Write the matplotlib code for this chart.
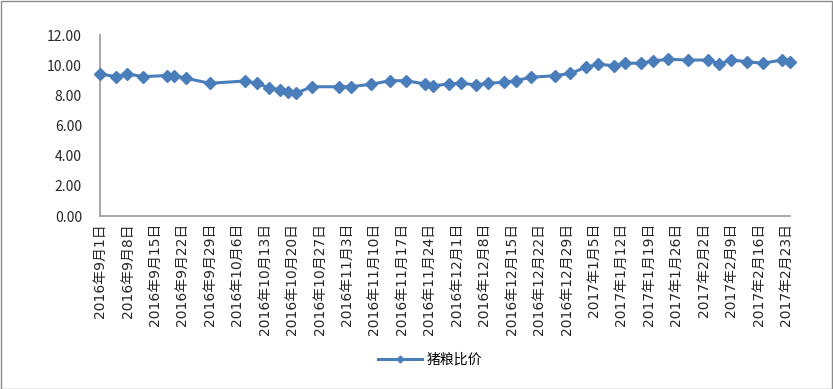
import matplotlib
matplotlib.use("Agg")
import matplotlib.pyplot as plt
import matplotlib.dates as mdates
from matplotlib.patches import Rectangle
from matplotlib.ticker import FuncFormatter, FixedLocator
import datetime as dt

plt.rcParams['font.family'] = ['Noto Sans CJK SC', 'DejaVu Sans']

# ---- data ----
dates = ["2016-09-01", "2016-09-05", "2016-09-08", "2016-09-12", "2016-09-18", "2016-09-20",
         "2016-09-23", "2016-09-29", "2016-10-08", "2016-10-11", "2016-10-14", "2016-10-17",
         "2016-10-19", "2016-10-21", "2016-10-25", "2016-11-01", "2016-11-04", "2016-11-09",
         "2016-11-14", "2016-11-18", "2016-11-23", "2016-11-25", "2016-11-29", "2016-12-02",
         "2016-12-06", "2016-12-09", "2016-12-13", "2016-12-16", "2016-12-20", "2016-12-26",
         "2016-12-30", "2017-01-03", "2017-01-06", "2017-01-10", "2017-01-13", "2017-01-17",
         "2017-01-20", "2017-01-24", "2017-01-29", "2017-02-03", "2017-02-06", "2017-02-09",
         "2017-02-13", "2017-02-17", "2017-02-22", "2017-02-24"]
values = [9.42, 9.24, 9.42, 9.24, 9.31, 9.31,
          9.13, 8.80, 8.95, 8.80, 8.51, 8.36,
          8.20, 8.14, 8.57, 8.57, 8.57, 8.73,
          8.97, 8.97, 8.75, 8.62, 8.76, 8.80,
          8.69, 8.80, 8.87, 8.97, 9.20, 9.30,
          9.46, 9.86, 10.06, 9.97, 10.13, 10.13,
          10.28, 10.39, 10.34, 10.34, 10.08, 10.34,
          10.23, 10.13, 10.34, 10.23]
series_name = "猪粮比价"
tick_start = "2016-09-01"
tick_count = 26          # weekly labels, 2016-09-01 ... 2017-02-23
y_ticks = [0, 2, 4, 6, 8, 10, 12]

# ---- figure ----
W, H = 833, 389
fig = plt.figure(figsize=(W / 100, H / 100), dpi=100)
fig.patches.append(Rectangle((0.5 / W, 0.5 / H), 1 - 1.5 / W, 1 - 1.5 / H,
                             transform=fig.transFigure, fill=False,
                             edgecolor='#8c8c8c', linewidth=1.0))

ax = fig.add_axes([100 / W, 1 - 216 / H, 690 / W, 181 / H])

x = [dt.datetime.strptime(d, "%Y-%m-%d") for d in dates]
color = '#4a7ebb'
line, = ax.plot(x, values, color=color, linewidth=2.2, marker='D', markersize=6.3,
                markeredgecolor=color, markerfacecolor=color, label=series_name,
                clip_on=False, zorder=3)

ax.set_xlim(x[0], x[-1])
ax.set_ylim(0, 12)
ax.set_yticks(y_ticks)
ax.yaxis.set_major_formatter(FuncFormatter(lambda v, p: f"{v:.2f}"))

t0 = dt.datetime.strptime(tick_start, "%Y-%m-%d")
ticks = [t0 + dt.timedelta(days=7 * i) for i in range(tick_count)]
ax.xaxis.set_major_locator(FixedLocator(mdates.date2num(ticks)))
ax.set_xticklabels([f"{t.year}年{t.month}月{t.day}日" for t in ticks], rotation=90,
                   fontsize=10, color='#262626',
                   family=['DejaVu Sans', 'Noto Sans CJK SC'])
for lab in ax.get_yticklabels():
    lab.set_fontsize(10)
    lab.set_color('#262626')

ax.tick_params(axis='y', length=0, pad=13)
ax.tick_params(axis='x', length=0, pad=5)
for s in ['top', 'right']:
    ax.spines[s].set_visible(False)
for s in ['left', 'bottom']:
    ax.spines[s].set_color('#a0a0a0')
    ax.spines[s].set_linewidth(1.3)

fig.legend(handles=[line], labels=[series_name], loc='center',
           bbox_to_anchor=(0.516, 1 - 360 / H), frameon=False, fontsize=10,
           handlelength=3.2, markerscale=0.55, handletextpad=0.3)

fig.savefig("out.png", dpi=100)
